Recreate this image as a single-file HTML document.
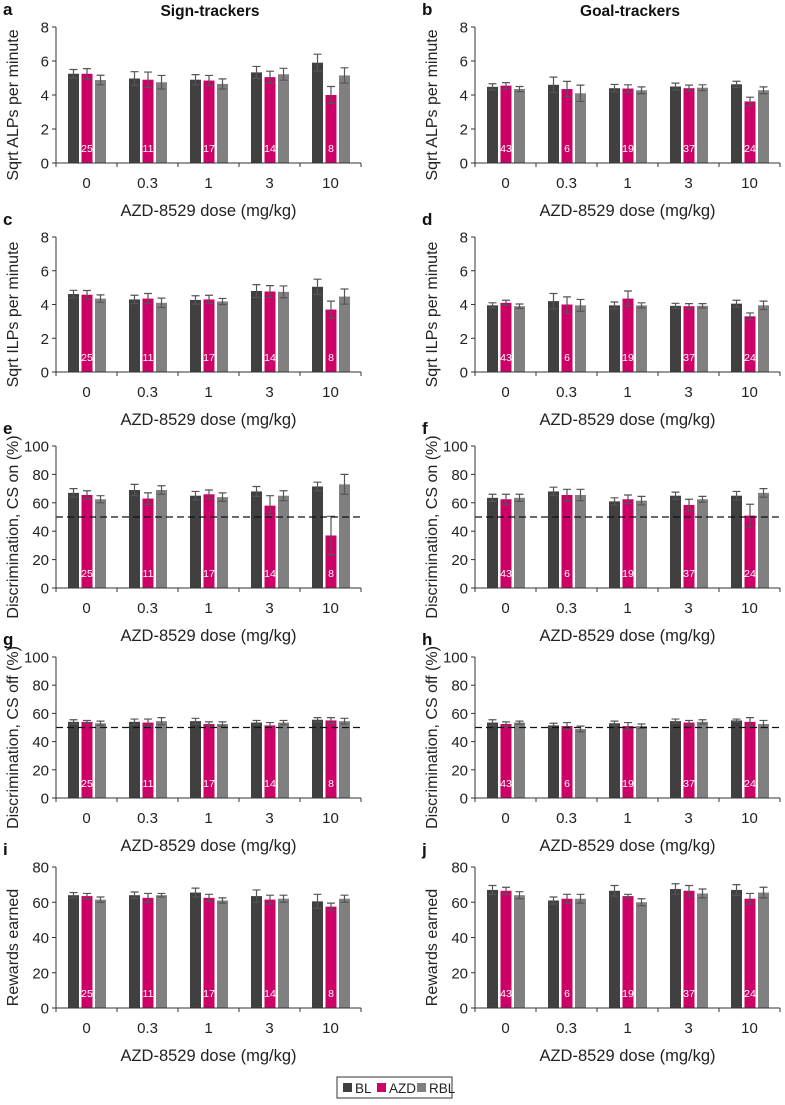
<!DOCTYPE html>
<html><head><meta charset="utf-8"><style>
html,body{margin:0;padding:0;background:#fff;}
svg{display:block;font-family:"Liberation Sans",sans-serif;}
</style></head><body>
<svg id="fig" width="785" height="1105" viewBox="0 0 785 1105" xmlns="http://www.w3.org/2000/svg">
<text x="210" y="16" text-anchor="middle" font-size="15.5" font-weight="bold" fill="#111">Sign-trackers</text>
<text x="630" y="16" text-anchor="middle" font-size="15.5" font-weight="bold" fill="#111">Goal-trackers</text>
<g>
<rect x="337" y="1077" width="115" height="21" fill="#fff" stroke="#333" stroke-width="1"/>
<rect x="343" y="1083" width="9" height="9" fill="#404040"/>
<text x="355" y="1093" font-size="13.5" fill="#222">BL</text>
<rect x="377" y="1083" width="9" height="9" fill="#cc0066"/>
<text x="389" y="1093" font-size="13.5" fill="#222">AZD</text>
<rect x="417" y="1083" width="9" height="9" fill="#808080"/>
<text x="429" y="1093" font-size="13.5" fill="#222">RBL</text>
</g>
</svg>
<script>
const doses = ["0","0.3","1","3","10"];
const nST = [25,11,17,14,8];
const nGT = [43,6,19,37,24];
const aBL=[5.25,4.97,4.9,5.33,5.9], aBLe=[.25,.4,.3,.35,.5];
const aAZD=[5.25,4.9,4.85,5.05,4.0], aAZDe=[.3,.45,.3,.35,.5];
const aRBL=[4.88,4.75,4.65,5.22,5.15], aRBLe=[.28,.4,.3,.35,.45];
const bBL=[4.48,4.6,4.4,4.5,4.63], bBLe=[.18,.45,.22,.2,.18];
const bAZD=[4.55,4.35,4.38,4.4,3.62], bAZDe=[.18,.45,.22,.18,.25];
const bRBL=[4.35,4.1,4.28,4.43,4.28], bRBLe=[.15,.48,.2,.17,.2];
const cBL=[4.62,4.3,4.27,4.8,5.05], cBLe=[.22,.25,.25,.38,.45];
const cAZD=[4.58,4.35,4.3,4.77,3.7], cAZDe=[.25,.3,.25,.35,.5];
const cRBL=[4.35,4.1,4.18,4.75,4.47], cRBLe=[.22,.28,.18,.35,.45];
const dBL=[3.95,4.2,3.95,3.92,4.05], dBLe=[.15,.45,.2,.15,.2];
const dAZD=[4.1,4.0,4.35,3.9,3.3], dAZDe=[.15,.45,.45,.15,.2];
const dRBL=[3.9,3.95,3.95,3.92,3.95], dRBLe=[.13,.35,.15,.13,.25];
const eBL=[67,69,65,68,71.5], eBLe=[3,4,3,3.5,3];
const eAZD=[65.5,63,66,58,37], eAZDe=[3,4,3,7,13.5];
const eRBL=[62.5,69,64,65,73], eRBLe=[2.5,3,3,3.5,7];
const fBL=[63.5,68,61,65,65], fBLe=[2.5,3,2.5,2.5,3];
const fAZD=[62.5,65.5,62.5,58.5,51], fAZDe=[3.5,4,3,4,8];
const fRBL=[63.5,65.5,61.5,62.5,67], fRBLe=[2.5,4,3,2,3];
const gBL=[54,54,54.5,53.5,55.5], gBLe=[1.5,2,2,1.5,1.5];
const gAZD=[54,53.5,52.5,51.5,55], gAZDe=[1,2.5,1.5,2,2];
const gRBL=[53,54.5,52.5,53.5,54.5], gRBLe=[1.5,2.5,1.5,1.5,2];
const hBL=[53.5,51.5,53,54.5,55], hBLe=[2,1.5,1.5,1.5,1];
const hAZD=[52.5,51,51,53.5,54], hAZDe=[1.5,2.5,2.5,1.5,3];
const hRBL=[53.5,49,51,54,52.5], hRBLe=[1,2,1.5,1.5,2.5];
const iBL=[64,64,65.5,63.5,60.5], iBLe=[1.5,1.8,2.5,3.5,4];
const iAZD=[63.5,62.5,62.5,61.5,57.5], iAZDe=[1.5,2.5,2,2.5,2];
const iRBL=[61.5,64,61,62,62], iRBLe=[1.5,1,1.5,2,2];
const jBL=[67,61,66.5,67.5,67], jBLe=[2.5,2,3,3,3];
const jAZD=[66.5,62,63.5,66.5,62], jAZDe=[2,2.5,1,3,3];
const jRBL=[64,62,60,65,65.5], jRBLe=[2,2.5,2,2.5,3];
const ticks8=[0,2,4,6,8], ticks100=[0,20,40,60,80,100], ticks80=[0,20,40,60,80];

const NS="http://www.w3.org/2000/svg";
const svg=document.getElementById('fig');
function mk(tag,attrs,parent,txt){const e=document.createElementNS(NS,tag);for(const k in attrs)e.setAttribute(k,attrs[k]);if(txt!==undefined)e.textContent=txt;parent.appendChild(e);return e;}
const colors=["#404040","#cc0066","#808080"];
const snames=["bl","azd","rbl"];
const panels=[
 {id:"a",x0:56,top:27,bot:163,max:8,ticks:ticks8,yt:"Sqrt ALPs per minute",s:[aBL,aAZD,aRBL],e:[aBLe,aAZDe,aRBLe],n:nST,dash:false},
 {id:"b",x0:475,top:27,bot:163,max:8,ticks:ticks8,yt:"Sqrt ALPs per minute",s:[bBL,bAZD,bRBL],e:[bBLe,bAZDe,bRBLe],n:nGT,dash:false},
 {id:"c",x0:56,top:237,bot:372,max:8,ticks:ticks8,yt:"Sqrt ILPs per minute",s:[cBL,cAZD,cRBL],e:[cBLe,cAZDe,cRBLe],n:nST,dash:false},
 {id:"d",x0:475,top:237,bot:372,max:8,ticks:ticks8,yt:"Sqrt ILPs per minute",s:[dBL,dAZD,dRBL],e:[dBLe,dAZDe,dRBLe],n:nGT,dash:false},
 {id:"e",x0:56,top:446,bot:588,max:100,ticks:ticks100,yt:"Discrimination, CS on (%)",s:[eBL,eAZD,eRBL],e:[eBLe,eAZDe,eRBLe],n:nST,dash:true},
 {id:"f",x0:475,top:446,bot:588,max:100,ticks:ticks100,yt:"Discrimination, CS on (%)",s:[fBL,fAZD,fRBL],e:[fBLe,fAZDe,fRBLe],n:nGT,dash:true},
 {id:"g",x0:56,top:657,bot:798,max:100,ticks:ticks100,yt:"Discrimination, CS off (%)",s:[gBL,gAZD,gRBL],e:[gBLe,gAZDe,gRBLe],n:nST,dash:true},
 {id:"h",x0:475,top:657,bot:798,max:100,ticks:ticks100,yt:"Discrimination, CS off (%)",s:[hBL,hAZD,hRBL],e:[hBLe,hAZDe,hRBLe],n:nGT,dash:true},
 {id:"i",x0:56,top:867,bot:1008,max:80,ticks:ticks80,yt:"Rewards earned",s:[iBL,iAZD,iRBL],e:[iBLe,iAZDe,iRBLe],n:nST,dash:false},
 {id:"j",x0:475,top:867,bot:1008,max:80,ticks:ticks80,yt:"Rewards earned",s:[jBL,jAZD,jRBL],e:[jBLe,jAZDe,jRBLe],n:nGT,dash:false}
];
const W=305, cw=W/5;
panels.forEach(p=>{
 const g=mk('g',{},svg);
 
 
 const y=v=>p.bot-(v/p.max)*(p.bot-p.top);
 const lx=p.x0-53;
 const lt=mk('text',{x:lx,y:p.top-12,'font-size':17,'font-weight':'bold',fill:'#111'},g,p.id);
 
 
 for(let c=0;c<5;c++){
  for(let s=0;s<3;s++){
   const v=p.s[s][c], er=p.e[s][c];
   const cx=p.x0+c*cw+17.5+s*13.5;
   const r=mk('rect',{x:cx-5.5,y:y(v),width:11,height:p.bot-y(v),fill:colors[s]},g);
   
   
   const eb=mk('path',{d:`M${cx},${y(v+er)}V${y(v-er)}M${cx-4},${y(v+er)}H${cx+4}M${cx-4},${y(v-er)}H${cx+4}`,stroke:'#555',fill:'none','stroke-width':1.2},g);
   
   
  }
  const nt=mk('text',{x:p.x0+c*cw+31,y:p.bot-11,'font-size':10.5,fill:'#fff','text-anchor':'middle'},g,p.n[c]);
  
  
  const xl=mk('text',{x:p.x0+c*cw+cw/2,y:p.bot+25,'font-size':15,fill:'#222','text-anchor':'middle'},g,doses[c]);
  
  
 }
 if(p.dash){
  const dl=mk('line',{x1:p.x0,x2:p.x0+W,y1:y(50),y2:y(50),stroke:'#111','stroke-width':1.2,'stroke-dasharray':'7,4'},g);
  
  
 }
 const ax=mk('path',{d:`M${p.x0},${p.top}V${p.bot}H${p.x0+W}`,stroke:'#333',fill:'none','stroke-width':1},g);
 
 
 for(let c=0;c<=5;c++){mk('line',{x1:p.x0+c*cw,x2:p.x0+c*cw,y1:p.bot,y2:p.bot+4,stroke:'#333'},g);}
 p.ticks.forEach(t=>{
  mk('line',{x1:p.x0-4,x2:p.x0,y1:y(t),y2:y(t),stroke:'#333'},g);
  const tl=mk('text',{x:p.x0-7,y:y(t)+5.5,'font-size':15,fill:'#222','text-anchor':'end'},g,t);
  
  
 });
 const xt=mk('text',{x:p.x0+W/2,y:p.bot+53,'font-size':16.5,fill:'#222','text-anchor':'middle'},g,'AZD-8529 dose (mg/kg)');
 
 
 const yc=(p.top+p.bot)/2+10;
 const yt=mk('text',{x:0,y:0,'font-size':16,fill:'#222','text-anchor':'middle',transform:`translate(${p.x0-38},${yc}) rotate(-90)`},g,p.yt);
 
 
});
</script>
</body></html>
